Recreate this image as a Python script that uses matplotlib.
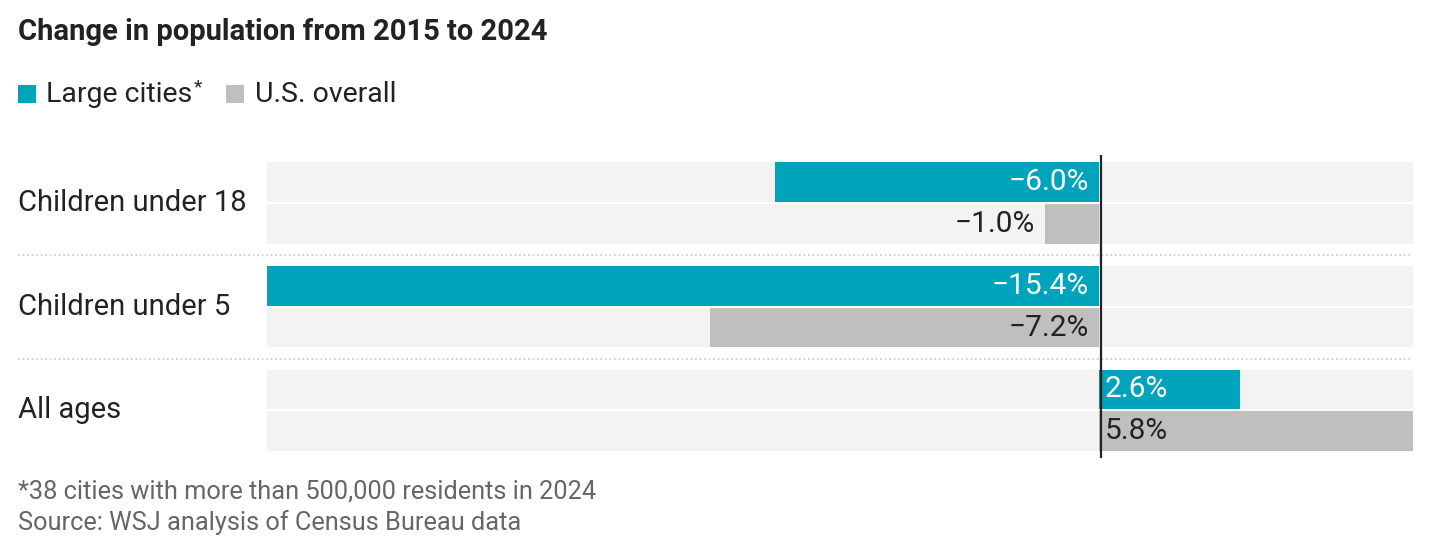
import matplotlib
matplotlib.use("Agg")
import matplotlib.pyplot as plt
import matplotlib.transforms as mtransforms
from matplotlib.patches import Rectangle

plt.rcParams['font.family'] = ['Roboto', 'DejaVu Sans']

categories = ["Children under 18", "Children under 5", "All ages"]
large_cities = [-6.0, -15.4, 2.6]
us_overall = [-1.0, -7.2, 5.8]
series_names = ["Large cities", "U.S. overall"]

TEAL = "#00a3bc"
GRAY = "#bfbfbf"
BAND = "#f3f3f3"
DARK = "#222222"

W, H = 1444, 560
fig = plt.figure(figsize=(W / 100, H / 100), dpi=100)
ax = fig.add_axes([267 / W, (H - 458) / H, (1413 - 267) / W, (458 - 155) / H])

xmin, xmax = -15.4, 5.8
group_pitch = 2.48
bar_h = 0.95

ax.set_xlim(xmin, xmax)
ax.set_ylim(6.6, -0.65)
ax.axis("off")

label_tr = mtransforms.blended_transform_factory(fig.transFigure, ax.transData)


def add_label(v, y, color_in):
    txt = f"{v:.1f}%".replace("-", "\u2212")
    inside = abs(v) >= 2
    if v < 0:
        if inside:
            ax.annotate(txt, (0, y), xytext=(-11, 0), textcoords="offset pixels",
                        ha="right", va="center", color=color_in, fontsize=21.5)
        else:
            ax.annotate(txt, (v, y), xytext=(-11, 0), textcoords="offset pixels",
                        ha="right", va="center", color=DARK, fontsize=21.5)
    else:
        ax.annotate(txt, (0, y), xytext=(5, 0), textcoords="offset pixels",
                    ha="left", va="center", color=color_in, fontsize=21.5)


for i, cat in enumerate(categories):
    y0 = i * group_pitch
    for j, (vals, col, tcol) in enumerate([(large_cities, TEAL, "white"), (us_overall, GRAY, DARK)]):
        y = y0 + j
        ax.add_patch(Rectangle((xmin, y - bar_h / 2), xmax - xmin, bar_h,
                               facecolor=BAND, edgecolor="none", zorder=0))
        ax.barh(y, vals[i], height=bar_h, color=col, zorder=1)
        add_label(vals[i], y, tcol)
    ax.text(18 / W, y0 + 0.5, cat, transform=label_tr, ha="left", va="center",
            fontsize=21, color=DARK)
    if i < len(categories) - 1:
        ysep = (y0 + 1 + bar_h / 2 + y0 + group_pitch - bar_h / 2) / 2
        ax.plot([18 / W, 1413 / W], [ysep, ysep], transform=label_tr, color="#d0d0d0",
                linestyle=(0, (1, 1.5)), linewidth=1.3, clip_on=False, zorder=0)

ax.axvline(0.03, color=DARK, linewidth=1.6, zorder=3)

# title, legend, notes
fig.text(18 / W, 1 - 32 / H, "Change in population from 2015 to 2024", ha="left", va="center",
         fontsize=21, fontweight="bold", color=DARK)

fig.patches.append(Rectangle((18 / W, 1 - 103 / H), 18 / W, 18 / H, transform=fig.transFigure,
                             facecolor=TEAL, edgecolor="none"))
t = fig.text(46 / W, 1 - 94 / H, series_names[0], ha="left", va="center",
             fontsize=20.5, color=DARK)
fig.text(194 / W, 1 - 87 / H, "*", ha="left", va="center", fontsize=14, color=DARK)
fig.patches.append(Rectangle((226 / W, 1 - 103 / H), 18 / W, 18 / H, transform=fig.transFigure,
                             facecolor=GRAY, edgecolor="none"))
fig.text(255 / W, 1 - 94 / H, series_names[1], ha="left", va="center",
         fontsize=20.5, color=DARK)

fig.text(18 / W, 1 - 491 / H, "*38 cities with more than 500,000 residents in 2024",
         ha="left", va="center", fontsize=18.3, color="#666666")
fig.text(18 / W, 1 - 523 / H, "Source: WSJ analysis of Census Bureau data",
         ha="left", va="center", fontsize=18.3, color="#666666")

fig.savefig("out.png", dpi=100, facecolor="white")
